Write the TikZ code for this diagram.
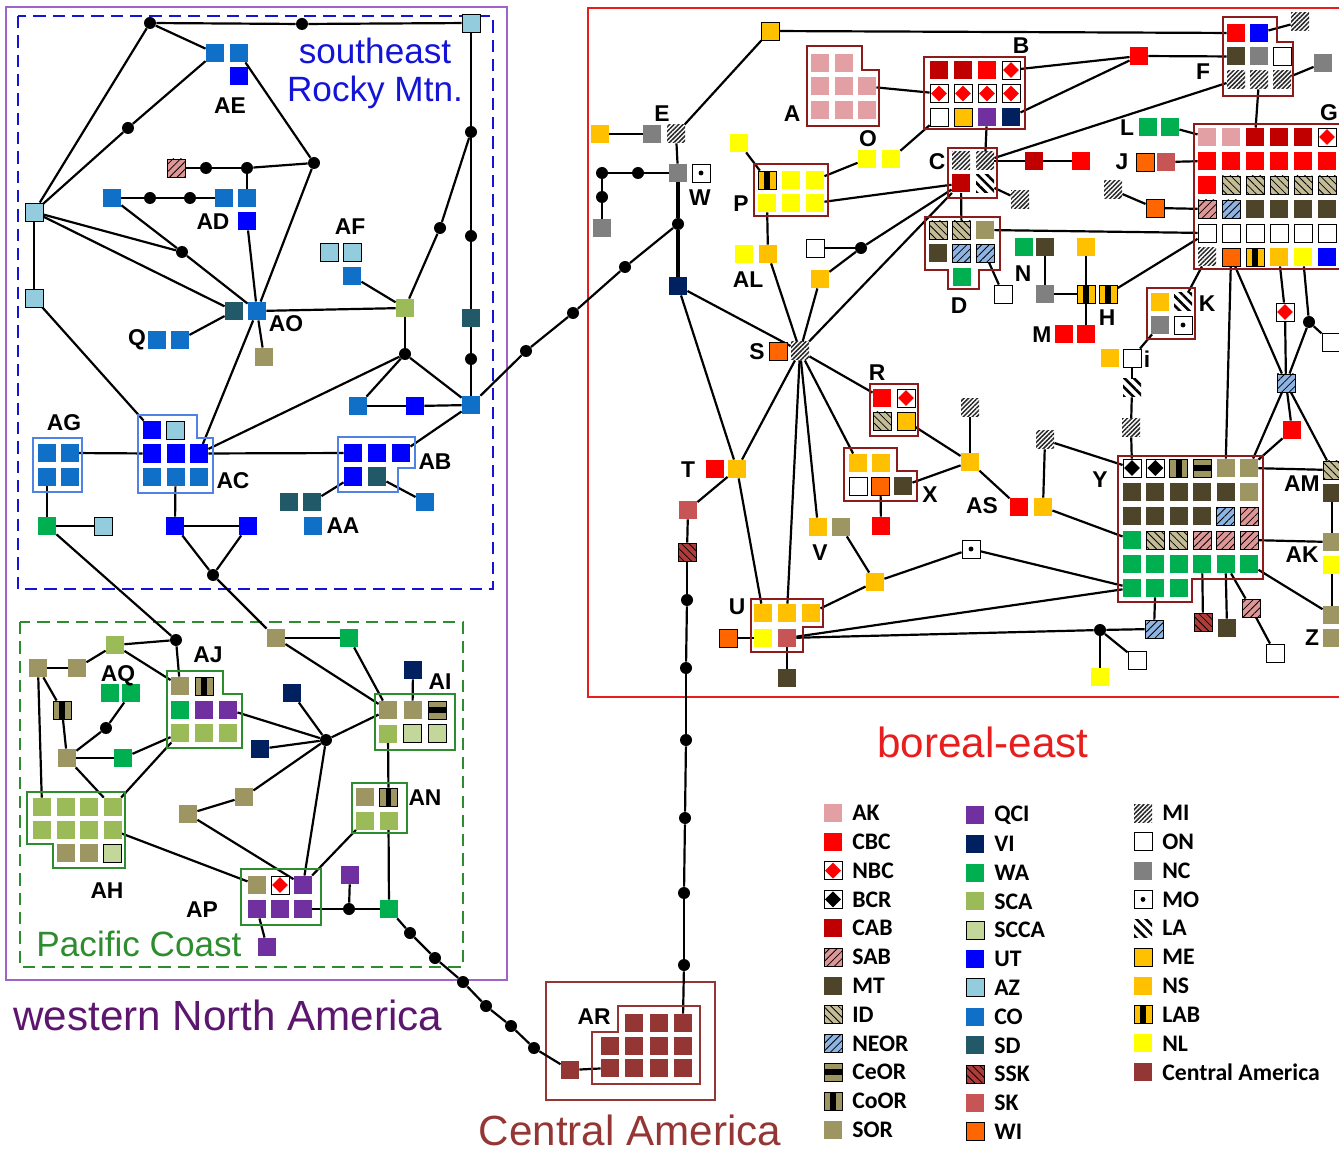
\documentclass[tikz,border=0pt]{standalone}
\usepackage{fontspec}
\setmainfont{Liberation Sans}
\newfontfamily\legfont{Carlito}
\usetikzlibrary{patterns.meta}

\pgfdeclarelayer{bg}
\pgfsetlayers{bg,main}

% colours of the population codes
\definecolor{cAK}{RGB}{226,160,165}
\definecolor{cCBC}{RGB}{255,0,0}
\definecolor{cCAB}{RGB}{192,0,0}
\definecolor{cSAB}{RGB}{222,150,150}
\definecolor{cMT}{RGB}{78,68,42}
\definecolor{cID}{RGB}{196,188,150}
\definecolor{cNEOR}{RGB}{141,180,226}
\definecolor{cSOR}{RGB}{158,150,98}
\definecolor{cQCI}{RGB}{112,48,160}
\definecolor{cVI}{RGB}{0,32,96}
\definecolor{cWA}{RGB}{0,176,80}
\definecolor{cSCA}{RGB}{155,187,89}
\definecolor{cSCCA}{RGB}{196,215,155}
\definecolor{cUT}{RGB}{0,0,255}
\definecolor{cAZ}{RGB}{147,205,221}
\definecolor{cCO}{RGB}{16,112,200}
\definecolor{cSD}{RGB}{33,89,104}
\definecolor{cSSK}{RGB}{176,60,58}
\definecolor{cSK}{RGB}{200,85,85}
\definecolor{cWI}{RGB}{255,102,0}
\definecolor{cNC}{RGB}{128,128,128}
\definecolor{cNS}{RGB}{255,192,0}
\definecolor{cNL}{RGB}{255,255,0}
\definecolor{cCA}{RGB}{148,54,52}
% colours of the regions
\definecolor{cWNA}{RGB}{92,22,110}
\definecolor{cWBOX}{RGB}{160,100,200}
\definecolor{cRM}{RGB}{20,20,215}
\definecolor{cPC}{RGB}{45,140,45}
\definecolor{cBE}{RGB}{232,30,30}
\definecolor{cBOX}{RGB}{140,28,28}
\definecolor{cBLUB}{RGB}{80,130,230}

\tikzset{
  sq/.style={rectangle, minimum size=3.6mm, inner sep=0pt, line width=0.5pt},
  dot/.style={circle, fill=black, minimum size=2.4mm, inner sep=0pt},
  ln/.style={line width=1.25pt},
  lbl/.style={font=\fontsize{13}{13}\selectfont\bfseries, inner sep=0pt},
  legtxt/.style={font=\legfont\fontsize{13.5}{14}\selectfont\bfseries, anchor=west, inner sep=0pt},
  bluebox/.style={draw=cBLUB, line width=1.6pt},
  greenbox/.style={draw=cPC, line width=1.5pt},
  redbox/.style={draw=cBOX, line width=1.5pt},
  nil/.style={},
  ak/.style={fill=cAK},
  cbc/.style={fill=cCBC},
  cab/.style={fill=cCAB},
  mt/.style={fill=cMT},
  sor/.style={fill=cSOR},
  qci/.style={fill=cQCI},
  vi/.style={fill=cVI},
  wa/.style={fill=cWA},
  sca/.style={fill=cSCA},
  ut/.style={fill=cUT},
  co/.style={fill=cCO},
  sd/.style={fill=cSD},
  sk/.style={fill=cSK},
  nc/.style={fill=cNC},
  ns/.style={fill=cNS},
  nl/.style={fill=cNL},
  ca/.style={fill=cCA},
  scca/.style={draw, fill=cSCCA},
  az/.style={draw, fill=cAZ},
  wi/.style={draw, fill=cWI},
  me/.style={draw, fill=cNS},
  ont/.style={draw, fill=white},
  nbc/.style={draw, fill=white, path picture={\fill[cCBC]
      ([yshift=-0.6pt]path picture bounding box.north) -- ([xshift=-0.6pt]path picture bounding box.east)
      -- ([yshift=0.6pt]path picture bounding box.south) -- ([xshift=0.6pt]path picture bounding box.west) -- cycle;}},
  bcr/.style={draw, fill=white, path picture={\fill[black]
      ([yshift=-0.6pt]path picture bounding box.north) -- ([xshift=-0.6pt]path picture bounding box.east)
      -- ([yshift=0.6pt]path picture bounding box.south) -- ([xshift=0.6pt]path picture bounding box.west) -- cycle;}},
  mo/.style={draw, fill=white, path picture={\fill[black] (path picture bounding box.center) circle (1.4pt);}},
  ceor/.style={draw, fill=cSOR, path picture={\fill[black]
      ([yshift=-1.7pt]path picture bounding box.west) rectangle ([yshift=1.7pt]path picture bounding box.east);}},
  coor/.style={draw, fill=cSOR, path picture={\fill[black]
      ([xshift=-1.7pt]path picture bounding box.north) rectangle ([xshift=1.7pt]path picture bounding box.south);}},
  lab/.style={draw, fill=cNS, path picture={\fill[black]
      ([xshift=-1.7pt]path picture bounding box.north) rectangle ([xshift=1.7pt]path picture bounding box.south);}},
  mi/.style={fill=white, postaction={pattern={Lines[angle=45,distance=1.8pt,line width=0.85pt]}, pattern color=black!85}},
  la/.style={fill=white, postaction={pattern={Lines[angle=-45,distance=3.8pt,line width=1.5pt]}, pattern color=black}},
  sab/.style={draw, fill=cSAB, postaction={pattern={Lines[angle=45,distance=3pt,line width=0.45pt]}}},
  neor/.style={draw, fill=cNEOR, postaction={pattern={Lines[angle=45,distance=3pt,line width=0.45pt]}}},
  idh/.style={draw, fill=cID, postaction={pattern={Lines[angle=-45,distance=3pt,line width=0.45pt]}}},
  ssk/.style={draw, fill=cSSK, postaction={pattern={Lines[angle=-45,distance=3pt,line width=0.45pt]}}},
}

% a block of squares: name, x, y, dx, dy, rows
\newcommand{\grp}[6]{%
  \foreach \rw [count=\j] in {#6} {%
    \foreach \cl [count=\i] in \rw {%
      \pgfmathsetmacro\gx{#2+#4*(\i-1)}%
      \pgfmathsetmacro\gy{#3+#5*(\j-1)}%
      \edef\grptmp{\noexpand\node[sq,\cl] (#1-\j-\i) at (\gx,\gy) {};}%
      \grptmp
    }%
  }%
}
% one column of the key: x of square, first y, x of text, list
\newcommand{\legcol}[4]{%
  \foreach \lsty/\ltx [count=\i] in {#4} {%
    \pgfmathsetmacro\ly{#2+28.8*(\i-1)}%
    \edef\grptmp{\noexpand\node[sq,\lsty] (lg-\lsty) at (#1,\ly) {};
      \noexpand\node[legtxt] (lt-\lsty) at (#3,\ly) {\ltx};}%
    \grptmp
  }%
}

\begin{document}
\begin{tikzpicture}[x=0.2mm, y=-0.2mm]
\useasboundingbox (0,0) rectangle (1339,1152);

% ---- southeast Rocky Mtn.
\node[sq,az] (az1) at (471,23) {};
\node[dot] (d01) at (150,23) {};
\node[dot] (d02) at (302,24) {};
\node[sq,co] (ae1) at (215,53) {};
\node[sq,co] (ae2) at (239,53) {};
\node[sq,ut] (ae3) at (239,76) {};
\node[dot] (d03) at (128,128) {};
\node[sq,az] (az2) at (34,212) {};
\node[sq,az] (az3) at (34,298) {};
\node[sq,sab] (sab1) at (176,168) {};
\node[dot] (d04) at (206,168) {};
\node[dot] (d05) at (247,168) {};
\node[dot] (d06) at (314,163) {};
\node[sq,co] (ad1) at (112,198) {};
\node[dot] (d07) at (150,198) {};
\node[dot] (d08) at (190,198) {};
\node[sq,co] (ad2) at (224,198) {};
\node[sq,co] (ad3) at (247,198) {};
\node[sq,ut] (ad4) at (247,221) {};
\node[dot] (d09) at (182,252) {};
\node[sq,sd] (ao1) at (234,311) {};
\node[sq,co] (ao2) at (257,311) {};
\node[sq,az] (af1) at (329,252) {};
\node[sq,az] (af2) at (352,252) {};
\node[sq,co] (af3) at (352,276) {};
\node[sq,sca] (sca1) at (405,308) {};
\node[dot] (d10) at (440,228) {};
\node[dot] (d11) at (471,132) {};
\node[dot] (d12) at (471,236) {};
\node[sq,sd] (sd1) at (471,318) {};
\node[dot] (d13) at (471,359) {};
\node[sq,co] (co1) at (471,405) {};
\node[dot] (d14) at (405,354) {};
\node[sq,co] (q1) at (157,340) {};
\node[sq,co] (q2) at (180,340) {};
\node[sq,sor] (sor1) at (264,357) {};
\node[sq,co] (co2) at (358,406) {};
\node[sq,ut] (ut1) at (415,406) {};
\grp{AC}{152}{430}{23.5}{23.5}{{ut,az},{ut,ut,ut},{co,co,co}}
\grp{AB}{353}{453}{24}{23.5}{{ut,ut,ut},{ut,sd}}
\grp{AG}{47}{453}{22.5}{24}{{co,co},{co,co}}
\node[sq,sd] (aa1) at (289,502) {};
\node[sq,sd] (aa2) at (312,502) {};
\node[sq,co] (aa3) at (313,526) {};
\node[sq,co] (co3) at (425,502) {};
\node[sq,wa] (wa1) at (47,526) {};
\node[sq,az] (az4) at (103,526) {};
\node[sq,ut] (ut2) at (175,526) {};
\node[sq,ut] (ut3) at (248,526) {};
\node[dot] (d15) at (213,575) {};
\node[dot] (c1) at (526,351) {};
\node[dot] (c2) at (573,313) {};
\node[dot] (c3) at (625,267) {};

% ---- Pacific Coast
\node[dot] (d16) at (176,640) {};
\node[sq,sca] (sca2) at (115,645) {};
\node[sq,sor] (sor3) at (38,668) {};
\node[sq,sor] (sor4) at (77,668) {};
\grp{AJ}{180}{686}{24}{23.5}{{sor,coor},{wa,qci,qci},{sca,sca,sca}}
\node[sq,wa] (aq1) at (110,693) {};
\node[sq,wa] (aq2) at (131,693) {};
\node[sq,coor] (coor1) at (62,710) {};
\node[sq,sor] (sor5) at (67,758) {};
\node[dot] (d17) at (106,728) {};
\node[sq,wa] (wa2) at (123,758) {};
\grp{AH}{42}{807}{23.5}{23}{{sca,sca,sca,sca},{sca,sca,sca,sca},{nil,sor,sor,scca}}
\node[dot] (d18) at (326,740) {};
\node[sq,vi] (vi1) at (292,693) {};
\node[sq,vi] (vi2) at (260,749) {};
\node[sq,sor] (sor6) at (244,797) {};
\node[sq,sor] (sor7) at (188,814) {};
\node[sq,sor] (sor2) at (276,638) {};
\node[sq,wa] (wa3) at (349,638) {};
\node[sq,vi] (vi3) at (413,670) {};
\grp{AI}{388}{710}{24.5}{23.5}{{sor,sor,ceor},{sca,scca,scca}}
\grp{AN}{365}{797}{23.5}{23.5}{{sor,coor},{sca,sca}}
\grp{AP}{257}{885}{23}{24}{{sor,nbc,qci},{qci,qci,qci}}
\node[dot] (d19) at (349,909) {};
\node[sq,qci] (qci1) at (350,875) {};
\node[sq,qci] (qci2) at (267,947) {};
\node[sq,wa] (wa4) at (389,909) {};
\node[dot] (e1) at (410,933) {};
\node[dot] (e2) at (435,958) {};
\node[dot] (e3) at (463,982) {};
\node[dot] (e4) at (486,1006) {};
\node[dot] (e5) at (511,1026) {};
\node[dot] (e6) at (534,1048) {};

% ---- Central America
\node[sq,ca] (ca1) at (570,1070) {};
\grp{AR}{610}{1023}{24.3}{22.5}{{nil,ca,ca,ca},{ca,ca,ca,ca},{ca,ca,ca,ca}}

% ---- boreal-east
\node[sq,me] (me1) at (770,31) {};
\node[sq,ns] (ns1) at (600,134) {};
\node[sq,nc] (nc1) at (652,134) {};
\node[sq,mi] (mi1) at (676,134) {};
\node[sq,nc] (nc2) at (678,173) {};
\node[sq,mo] (mo1) at (701,173) {};
\node[dot] (d20) at (602,173) {};
\node[dot] (d21) at (638,173) {};
\node[dot] (d22) at (602,197) {};
\node[sq,nc] (nc3) at (602,228) {};
\node[dot] (d23) at (678,224) {};
\node[sq,vi] (vi4) at (678,286) {};
\grp{A}{820}{63}{23.5}{23.5}{{ak,ak},{ak,ak,ak},{ak,ak,ak}}
\grp{B}{939}{70}{24}{23.5}{{cab,cab,cbc,nbc},{nbc,nbc,nbc,nbc},{ont,me,qci,vi}}
\node[sq,cbc] (cbc1) at (1139,56) {};
\grp{F}{1236}{33}{23}{23.5}{{cbc,ut},{mt,nc,ont},{mi,mi,mi}}
\node[sq,mi] (mi2) at (1300,22) {};
\node[sq,nc] (nc4) at (1323,63) {};
\node[sq,nl] (nl1) at (867,159) {};
\node[sq,nl] (nl2) at (891,159) {};
\node[sq,nl] (nl3) at (739,143) {};
\grp{P}{767}{180}{24}{23}{{lab,nl,nl},{nl,nl,nl}}
\grp{C}{961}{161}{24}{22.5}{{mi,mi},{cab,la}}
\node[sq,cab] (cab1) at (1034,161) {};
\node[sq,cbc] (cbc2) at (1081,161) {};
\node[sq,mi] (mi3) at (1020,200) {};
\grp{D}{938}{230}{23.5}{23.5}{{idh,idh,sor},{mt,neor,neor},{nil,wa}}
\node[sq,ont] (on1) at (1003,294) {};
\node[sq,nl] (nl4) at (744,254) {};
\node[sq,ns] (ns2) at (768,254) {};
\node[sq,ont] (on2) at (815,248) {};
\node[dot] (d24) at (861,248) {};
\node[sq,ns] (ns3) at (820,279) {};
\node[sq,wi] (wi1) at (778,351) {};
\node[sq,mi] (mi4) at (800,351) {};
\node[sq,wa] (wa5) at (1024,247) {};
\node[sq,mt] (mt1) at (1045,247) {};
\node[sq,nc] (nc5) at (1045,294) {};
\node[sq,ns] (ns4) at (1086,247) {};
\node[sq,lab] (lab1) at (1086,294) {};
\node[sq,lab] (lab2) at (1108,294) {};
\node[sq,cbc] (cbc3) at (1064,334) {};
\node[sq,cbc] (cbc4) at (1086,334) {};
\node[sq,wa] (wa6) at (1148,127) {};
\node[sq,wa] (wa7) at (1170,127) {};
\node[sq,wi] (wi2) at (1145,162) {};
\node[sq,sk] (sk1) at (1166,162) {};
\node[sq,mi] (mi5) at (1113,190) {};
\node[sq,wi] (wi3) at (1155,208) {};
\grp{G}{1207}{137}{24}{24}{{ak,ak,cab,cab,cab,nbc},{cbc,cbc,cbc,cbc,cbc,cbc},{cbc,idh,idh,idh,idh,idh},{sab,neor,mt,mt,mt,mt},{ont,ont,ont,ont,ont,ont},{mi,wi,lab,ns,nl,ut}}
\grp{K}{1160}{302}{23}{23}{{ns,la},{nc,mo}}
\node[sq,ns] (ns5) at (1110,358) {};
\node[sq,ont] (on3) at (1132,358) {};
\node[sq,la] (la1) at (1132,388) {};
\node[sq,mi] (mi6) at (1131,428) {};
\node[sq,nbc] (nbc1) at (1285,312) {};
\node[dot] (d25) at (1309,322) {};
\node[sq,ont] (on4) at (1331,342) {};
\node[sq,neor] (neor1) at (1286,383) {};
\node[sq,cbc] (cbc5) at (1292,430) {};
\node[sq,mi] (mi7) at (1045,440) {};
\node[sq,cbc] (cbc6) at (1019,507) {};
\node[sq,ns] (ns6) at (1043,507) {};
\grp{Y}{1132}{468}{23.4}{24}{{bcr,bcr,coor,ceor,sor,sor},{mt,mt,mt,mt,mt,sor},{mt,mt,mt,mt,neor,sab},{wa,idh,idh,sab,sab,sab},{wa,wa,wa,wa,wa,wa},{wa,wa,wa}}
\node[sq,idh] (id1) at (1332,470) {};
\node[sq,mt] (mt2) at (1332,493) {};
\node[sq,sor] (sor8) at (1332,542) {};
\node[sq,nl] (nl5) at (1332,565) {};
\node[sq,sor] (sor9) at (1332,615) {};
\node[sq,sor] (sor10) at (1332,638) {};
\node[sq,neor] (neor2) at (1154,629) {};
\node[dot] (d26) at (1100,630) {};
\node[sq,nl] (nl6) at (1100,677) {};
\node[sq,ont] (on5) at (1137,660) {};
\node[sq,ssk] (ssk1) at (1203,622) {};
\node[sq,mt] (mt3) at (1227,628) {};
\node[sq,sab] (sab2) at (1251,608) {};
\node[sq,ont] (on6) at (1275,653) {};
\node[sq,mo] (mo2) at (971,549) {};
\node[sq,ns] (ns7) at (875,582) {};
\grp{R}{882}{398}{24}{23}{{cbc,nbc},{idh,me}}
\node[sq,mi] (mi8) at (970,408) {};
\node[sq,ns] (ns8) at (970,462) {};
\grp{X}{858}{463}{22.5}{23}{{ns,ns},{ont,wi,mt}}
\node[sq,cbc] (cbc7) at (881,526) {};
\node[sq,ns] (ns9) at (818,527) {};
\node[sq,sor] (sor11) at (841,527) {};
\node[sq,cbc] (cbc8) at (715,469) {};
\node[sq,ns] (t2) at (737,469) {};
\node[sq,sk] (sk2) at (688,510) {};
\node[sq,ssk] (ssk2) at (687,552) {};
\node[dot] (v1) at (687,600) {};
\node[dot] (v2) at (686,668) {};
\node[dot] (v3) at (686,740) {};
\node[dot] (v4) at (685,818) {};
\node[dot] (v5) at (684,893) {};
\node[dot] (v6) at (684,965) {};
\grp{U}{763}{613}{24}{25}{{ns,ns,ns},{nl,sk}}
\node[sq,wi] (wi4) at (728,638) {};
\node[sq,mt] (mt4) at (787,678) {};

% group outlines
\draw[bluebox] (138,415) -- (197,415) -- (197,438) -- (213,438) -- (213,493) -- (138,493) -- cycle;
\draw[bluebox] (338,437) -- (415,437) -- (415,468) -- (398,468) -- (398,492) -- (338,492) -- cycle;
\draw[bluebox] (33,438) rectangle (82,492);
\draw[greenbox] (167,671) -- (223,671) -- (223,694) -- (242,694) -- (242,748) -- (167,748) -- cycle;
\draw[greenbox] (27,792) -- (125,792) -- (125,868) -- (53,868) -- (53,844) -- (27,844) -- cycle;
\draw[greenbox] (375,694) rectangle (455,750);
\draw[greenbox] (352,783) rectangle (407,833);
\draw[greenbox] (241,869) rectangle (321,925);
\draw[draw=cCA, line width=1.4pt] (618,1006) -- (700,1006) -- (700,1084) -- (592,1084) -- (592,1032) -- (618,1032) -- cycle;
\draw[redbox] (807,46) -- (862,46) -- (862,70) -- (879,70) -- (879,126) -- (807,126) -- cycle;
\draw[redbox] (924,57) rectangle (1025,129);
\draw[redbox] (1223,17) -- (1277,17) -- (1277,42) -- (1293,42) -- (1293,96) -- (1223,96) -- cycle;
\draw[redbox] (754,164) rectangle (828,216);
\draw[redbox] (948,148) rectangle (997,198);
\draw[redbox] (925,217) -- (1000,217) -- (1000,270) -- (979,270) -- (979,289) -- (948,289) -- (948,270) -- (925,270) -- cycle;
\draw[redbox] (1194,124) rectangle (1350,269);
\draw[redbox] (1147,288) rectangle (1195,339);
\draw[redbox] (870,384) rectangle (918,436);
\draw[redbox] (844,448) -- (897,448) -- (897,471) -- (917,471) -- (917,501) -- (844,501) -- cycle;
\draw[redbox] (1118,456) -- (1263,456) -- (1263,579) -- (1192,579) -- (1192,602) -- (1118,602) -- cycle;
\draw[redbox] (751,599) -- (823,599) -- (823,627) -- (803,627) -- (803,652) -- (751,652) -- cycle;

% labels of the groups
\node[lbl] (lAE) at (230,106) {AE};
\node[lbl] (lAD) at (213,222) {AD};
\node[lbl] (lAF) at (350,227) {AF};
\node[lbl] (lAO) at (286,324) {AO};
\node[lbl] (lQ) at (137,340) {Q};
\node[lbl] (lAG) at (64,423) {AG};
\node[lbl] (lAC) at (233,481) {AC};
\node[lbl] (lAB) at (435,462) {AB};
\node[lbl] (lAA) at (343,526) {AA};
\node[lbl] (lAJ) at (208,655) {AJ};
\node[lbl] (lAQ) at (118,676) {AQ};
\node[lbl] (lAI) at (440,682) {AI};
\node[lbl] (lAN) at (425,798) {AN};
\node[lbl] (lAH) at (107,891) {AH};
\node[lbl] (lAP) at (202,910) {AP};
\node[lbl] (lAR) at (594,1017) {AR};
\node[lbl] (lE) at (662,114) {E};
\node[lbl] (lW) at (700,198) {W};
\node[lbl] (lA) at (792,114) {A};
\node[lbl] (lB) at (1021,46) {B};
\node[lbl] (lF) at (1203,72) {F};
\node[lbl] (lG) at (1329,113) {G};
\node[lbl] (lO) at (868,139) {O};
\node[lbl] (lP) at (741,204) {P};
\node[lbl] (lC) at (937,162) {C};
\node[lbl] (lD) at (959,306) {D};
\node[lbl] (lL) at (1127,128) {L};
\node[lbl] (lJ) at (1122,162) {J};
\node[lbl] (lAL) at (748,280) {AL};
\node[lbl] (lN) at (1023,274) {N};
\node[lbl] (lH) at (1107,318) {H};
\node[lbl] (lM) at (1042,335) {M};
\node[lbl] (lK) at (1207,304) {K};
\node[lbl] (li) at (1147,359) {i};
\node[lbl] (lS) at (757,352) {S};
\node[lbl] (lR) at (877,373) {R};
\node[lbl] (lX) at (930,495) {X};
\node[lbl] (lAS) at (982,506) {AS};
\node[lbl] (lV) at (820,553) {V};
\node[lbl] (lT) at (688,470) {T};
\node[lbl] (lU) at (737,607) {U};
\node[lbl] (lY) at (1100,480) {Y};
\node[lbl] (lAM) at (1302,484) {AM};
\node[lbl] (lAK) at (1302,555) {AK};
\node[lbl] (lZ) at (1312,638) {Z};

% region names
\node[text=cRM, font=\fontsize{20}{22}\selectfont] (trm1) at (375,51) {southeast};
\node[text=cRM, font=\fontsize{20}{22}\selectfont] (trm2) at (375,92) {Rocky Mtn.};
\node[text=cPC, font=\fontsize{20}{22}\selectfont] (tpc) at (139,944) {Pacific Coast};
\node[text=cWNA, font=\fontsize{24}{26}\selectfont] (twna) at (228,1015) {western North America};
\node[text=cBE, font=\fontsize{24}{26}\selectfont] (tbe) at (983,742) {boreal-east};
\node[text=cCA, font=\fontsize{24}{26}\selectfont] (tca) at (630,1130) {Central America};

% key
\legcol{833}{813}{852}{ak/AK,cbc/CBC,nbc/NBC,bcr/BCR,cab/CAB,sab/SAB,mt/MT,idh/ID,neor/NEOR,ceor/CeOR,coor/CoOR,sor/SOR}
\legcol{975}{815}{994}{qci/QCI,vi/VI,wa/WA,sca/SCA,scca/SCCA,ut/UT,az/AZ,co/CO,sd/SD,ssk/SSK,sk/SK,wi/WI}
\legcol{1143}{813}{1162}{mi/MI,ont/ON,nc/NC,mo/MO,la/LA,me/ME,ns/NS,lab/LAB,nl/NL,ca/Central America}

\begin{pgfonlayer}{bg}
% region frames
\draw[cWBOX, line width=0.8pt] (6,7) rectangle (507,980);
\draw[cRM, line width=1.3pt, dash pattern=on 7pt off 4pt] (18,16) rectangle (493,589);
\draw[cPC, line width=1.3pt, dash pattern=on 7pt off 4pt] (20,622) rectangle (463,967);
\draw[cBE, line width=1.3pt] (588,8) rectangle (1350,697);
\draw[cCA, line width=1.4pt] (546,982) rectangle (715,1100);

% southeast Rocky Mtn.
\path[ln] (d01) edge (d02) edge (ae1) edge (az2)
          (d02) edge (az1)
          (ae2) edge (d06)
          (az2) edge (d03) edge (az3) edge (d09) edge (ao1)
          (d03) edge (ae1)
          (sab1) edge (d04)
          (d04) edge (d05)
          (d05) edge (d06) edge (ad3)
          (ad1) edge (d07) edge (d09)
          (d07) edge (d08)
          (d08) edge (ad2)
          (d09) edge (ao2)
          (ad4) edge (ao2)
          (d06) edge (ao2)
          (ao2) edge (sca1) edge (sor1) edge (AC-2-3)
          (af3) edge (sca1)
          (sca1) edge (d10) edge (d14)
          (d10) edge (d11)
          (az1) edge (d11)
          (d11) edge (d12)
          (d12) edge (sd1)
          (sd1) edge (d13)
          (d13) edge (co1)
          (q2) edge (ao1)
          (az3) edge (AC-1-1)
          (d14) edge (co2) edge (co1) edge (AC-2-3)
          (co2) edge (ut1)
          (ut1) edge (co1)
          (co1) edge (c1) edge (AB-1-3)
          (c1) edge (c2)
          (c2) edge (c3)
          (c3) edge (d23)
          (AC-2-3) edge (AB-1-1)
          (AG-1-2) edge (AC-2-1)
          (aa2) edge (AB-2-1)
          (AB-2-2) edge (co3)
          (AG-2-1) edge (wa1)
          (wa1) edge (az4) edge (d16)
          (AC-3-2) edge (ut2)
          (ut2) edge (ut3) edge (d15)
          (ut3) edge (d15)
          (d15) edge (sor2);

% Pacific Coast
\path[ln] (d16) edge (sca2) edge (AJ-1-1)
          (sor3) edge (sor4) edge (coor1) edge (AH-1-1)
          (sor4) edge (sca2)
          (sca2) edge (AJ-1-1)
          (coor1) edge (sor5)
          (sor5) edge (d17) edge (wa2) edge (AH-1-4)
          (d17) edge (aq2)
          (wa2) edge (AJ-3-1)
          (AJ-3-1) edge (AH-1-4)
          (AJ-2-3) edge (d18)
          (d18) edge (vi1) edge (vi2) edge (sor6) edge (AP-1-3) edge (AI-1-1)
          (sor6) edge (sor7)
          (sor7) edge (AP-1-3)
          (sor2) edge (wa3) edge (AI-1-1)
          (wa3) edge (AI-1-1)
          (vi3) edge (AI-1-2)
          (AI-2-1) edge (AN-1-2)
          (AN-2-2) edge (wa4)
          (AN-2-1) edge (AP-1-3)
          (AH-2-4) edge (AP-1-1)
          (AP-2-3) edge (d19)
          (d19) edge (wa4) edge (qci1)
          (qci2) edge (AP-2-1)
          (wa4) edge (e1)
          (e1) edge (e2)
          (e2) edge (e3)
          (e3) edge (e4)
          (e4) edge (e5)
          (e5) edge (e6)
          (e6) edge (ca1)
          (ca1) edge (AR-3-1);

% boreal-east
\path[ln] (mi1) edge (me1) edge (nc2)
          (me1) edge (F-1-1)
          (ns1) edge (nc1)
          (nc2) edge (d21)
          (d21) edge (d20)
          (d20) edge (d22)
          (d22) edge (nc3)
          (vi4) edge (mi4) edge (t2)
          (A-2-3) edge (B-2-1)
          (B-1-4) edge (cbc1)
          (cbc1) edge (F-2-1) edge (B-3-4)
          (B-3-1) edge (nl2)
          (nl3) edge (P-1-1)
          (nl1) edge (P-1-3)
          (P-2-3) edge (C-2-1)
          (C-1-2) edge (F-3-1) edge (cab1)
          (B-3-3) edge (C-1-2)
          (cab1) edge (cbc2)
          (C-2-2) edge (mi3)
          (C-2-1) edge (D-1-2) edge (d24) edge (mi4)
          (on2) edge (d24)
          (d24) edge (ns3)
          (ns3) edge (mi4)
          (P-2-1) edge (ns2)
          (ns2) edge (mi4)
          (D-1-3) edge (G-5-1)
          (D-2-3) edge (on1)
          (mt1) edge (nc5)
          (nc5) edge (lab1)
          (ns4) edge (lab1)
          (lab1) edge (cbc4)
          (lab2) edge (G-5-1)
          (wa7) edge (G-1-1)
          (sk1) edge (G-2-1)
          (mi5) edge (wi3)
          (wi3) edge (G-4-1)
          (F-1-2) edge (mi2)
          (nc4) edge (F-3-3)
          (F-3-2) edge (G-1-3)
          (G-6-1) edge (K-1-2)
          (G-6-2) edge (Y-1-5) edge (neor1)
          (G-6-4) edge (nbc1)
          (nbc1) edge (neor1)
          (G-6-5) edge (d25)
          (d25) edge (neor1) edge (on4)
          (neor1) edge (cbc5) edge (Y-1-6) edge (id1)
          (cbc5) edge (Y-1-6)
          (Y-1-6) edge (id1)
          (mt2) edge (sor8)
          (Y-4-6) edge (sor8)
          (nl5) edge (sor9)
          (Y-5-6) edge (sor9)
          (K-2-1) edge (on3)
          (on3) edge (la1)
          (la1) edge (mi6)
          (mi6) edge (Y-1-1)
          (mi7) edge (Y-1-1) edge (ns6)
          (ns6) edge (Y-4-1)
          (ns8) edge (cbc6) edge (X-2-3)
          (mi8) edge (ns8)
          (R-2-2) edge (ns8)
          (X-2-2) edge (cbc7)
          (mo2) edge (Y-6-1) edge (ns7)
          (sor11) edge (ns7)
          (ns7) edge (U-1-3)
          (U-2-2) edge (Y-6-1) edge (d26) edge (mt4)
          (Y-6-2) edge (neor2)
          (neor2) edge (d26)
          (d26) edge (nl6) edge (on5)
          (Y-5-4) edge (ssk1)
          (Y-5-5) edge (mt3) edge (sab2)
          (sab2) edge (on6)
          (mi4) edge (t2) edge (U-1-2) edge (ns9) edge (X-1-1) edge (R-1-1)
          (t2) edge (U-1-1) edge (sk2)
          (sk2) edge (ssk2)
          (ssk2) edge (v1)
          (v1) edge (v2)
          (v2) edge (v3)
          (v3) edge (v4)
          (v4) edge (v5)
          (v5) edge (v6)
          (v6) edge (AR-1-4)
          (wi4) edge (U-2-1);
% the thicker trunk below W
\path[line width=1.8pt] (nc2) edge (d23)
          (d23) edge (vi4);
\end{pgfonlayer}
\end{tikzpicture}
\end{document}
